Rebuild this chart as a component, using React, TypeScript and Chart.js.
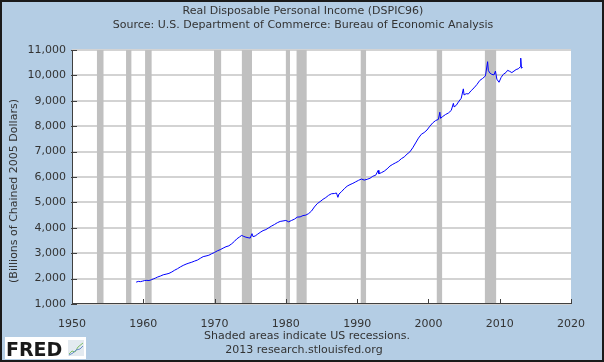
import { useEffect, useRef } from 'react';
import { Chart, registerables } from 'chart.js';

Chart.register(...registerables);

const titleLine1 = 'Real Disposable Personal Income (DSPIC96)';
const titleLine2 = 'Source: U.S. Department of Commerce: Bureau of Economic Analysis';
const yAxisTitle = '(Billions of Chained 2005 Dollars)';
const noteLine1 = 'Shaded areas indicate US recessions.';
const noteLine2 = '2013 research.stlouisfed.org';
const logoText = 'FRED';

const years = [
  1959.0, 1959.3, 1959.6, 1959.9, 1960.2, 1960.5, 1960.8, 1961.1, 1961.4, 1961.7,
  1962.0, 1962.4, 1962.8, 1963.2, 1963.6, 1964.0, 1964.4, 1964.8, 1965.2, 1965.6,
  1966.0, 1966.4, 1966.8, 1967.2, 1967.6, 1968.0, 1968.4, 1968.8, 1969.2, 1969.6,
  1970.0, 1970.4, 1970.8, 1971.2, 1971.6, 1972.0, 1972.4, 1972.8, 1973.1, 1973.5,
  1973.8, 1974.1, 1974.4, 1974.7, 1975.0, 1975.25, 1975.4, 1975.7, 1976.0, 1976.4,
  1976.8, 1977.2, 1977.6, 1978.0, 1978.4, 1978.8, 1979.2, 1979.6, 1980.0, 1980.4,
  1980.8, 1981.2, 1981.6, 1982.0, 1982.4, 1982.8, 1983.2, 1983.6, 1984.0, 1984.4,
  1984.8, 1985.2, 1985.6, 1986.0, 1986.4, 1986.8, 1987.1, 1987.3, 1987.45, 1987.8,
  1988.2, 1988.6, 1989.0, 1989.4, 1989.8, 1990.2, 1990.6, 1991.0, 1991.4, 1991.8,
  1992.2, 1992.6, 1992.95, 1993.05, 1993.4, 1993.8, 1994.2, 1994.6, 1995.0, 1995.4,
  1995.8, 1996.2, 1996.6, 1997.0, 1997.4, 1997.8, 1998.2, 1998.6, 1999.0, 1999.4,
  1999.8, 2000.2, 2000.6, 2001.0, 2001.4, 2001.6, 2001.7, 2002.0, 2002.4, 2002.8,
  2003.2, 2003.5, 2003.6, 2003.9, 2004.2, 2004.6, 2004.9, 2005.0, 2005.3, 2005.6,
  2006.0, 2006.4, 2006.8, 2007.2, 2007.6, 2008.0, 2008.3, 2008.4, 2008.6, 2008.9,
  2009.2, 2009.4, 2009.6, 2009.9, 2010.2, 2010.5, 2010.9, 2011.1, 2011.4, 2011.7,
  2012.0, 2012.3, 2012.6, 2012.9, 2012.95, 2013.05, 2013.2,
];

const income = [
  1860, 1890, 1880, 1900, 1925, 1930, 1925, 1950, 1985, 2020,
  2060, 2100, 2150, 2175, 2205, 2260, 2330, 2390, 2460, 2520,
  2570, 2610, 2645, 2690, 2730, 2800, 2865, 2890, 2920, 2980,
  3030, 3095, 3140, 3200, 3255, 3290, 3370, 3470, 3560, 3640,
  3700, 3660, 3630, 3610, 3595, 3770, 3650, 3680, 3740, 3820,
  3890, 3930, 4000, 4070, 4130, 4200, 4250, 4270, 4290, 4235,
  4290, 4340, 4420, 4430, 4480, 4500, 4560, 4660, 4820, 4950,
  5030, 5120, 5190, 5280, 5340, 5350, 5370, 5200, 5330, 5420,
  5540, 5640, 5700, 5750, 5810, 5870, 5920, 5880, 5910, 5950,
  6030, 6070, 6260, 6130, 6170, 6230, 6320, 6430, 6500, 6560,
  6620, 6720, 6790, 6900, 6990, 7150, 7340, 7530, 7680, 7750,
  7850, 8000, 8130, 8220, 8270, 8550, 8310, 8380, 8460, 8520,
  8620, 8900, 8760, 8820, 8950, 9100, 9470, 9230, 9280, 9270,
  9400, 9510, 9640, 9800, 9880, 9980, 10540, 10200, 10100, 10040,
  10020, 10170, 9850, 9730, 9920, 10040, 10120, 10200, 10160, 10110,
  10170, 10230, 10260, 10340, 10680, 10280, 10330,
];

const recessionStart = [1953.5, 1957.58, 1960.25, 1969.92, 1973.83, 1980.0, 1981.5, 1990.5, 2001.17, 2007.92];
const recessionEnd = [1954.42, 1958.33, 1961.17, 1970.92, 1975.25, 1980.58, 1982.92, 1991.25, 2001.92, 2009.5];

const FONT = '"DejaVu Sans", Verdana, sans-serif';
const BG = '#b4cde4';
const TEXT = '#333333';

const fredPlugin = {
  id: 'fredDecor',
  beforeDraw(chart: any) {
    const { ctx, chartArea: a, width, height } = chart;
    ctx.save();
    ctx.fillStyle = BG;
    ctx.fillRect(0, 0, width, height);
    ctx.fillStyle = '#ffffff';
    ctx.fillRect(a.left, a.top, a.right - a.left, a.bottom - a.top);
    ctx.restore();
  },
  beforeDatasetsDraw(chart: any) {
    const { ctx, chartArea: a } = chart;
    const x = chart.scales.x;
    ctx.save();
    ctx.fillStyle = '#c0c0c0';
    recessionStart.forEach((s, i) => {
      const x0 = x.getPixelForValue(s);
      const x1 = x.getPixelForValue(recessionEnd[i]);
      ctx.fillRect(x0, a.top, x1 - x0, a.bottom - a.top);
    });
    ctx.restore();
  },
  afterDatasetsDraw(chart: any) {
    const { ctx, chartArea: a } = chart;
    const xs = chart.scales.x;
    const ys = chart.scales.y;
    ctx.save();
    ctx.strokeStyle = '#404040';
    ctx.lineWidth = 1;
    ctx.beginPath();
    ctx.moveTo(a.left + 0.5, a.top);
    ctx.lineTo(a.left + 0.5, a.bottom - 0.5);
    ctx.lineTo(a.right, a.bottom - 0.5);
    ys.ticks.forEach((t: any) => {
      const py = Math.round(ys.getPixelForValue(t.value)) + 0.5;
      ctx.moveTo(a.left - 1, py);
      ctx.lineTo(a.left + 5, py);
    });
    xs.ticks.forEach((t: any) => {
      const px = Math.round(xs.getPixelForValue(t.value)) + 0.5;
      ctx.moveTo(px, a.bottom);
      ctx.lineTo(px, a.bottom - 5);
    });
    ctx.stroke();
    ctx.restore();
  },
  afterDraw(chart: any) {
    const { ctx, width, height } = chart;
    ctx.save();
    ctx.fillStyle = TEXT;
    ctx.font = `11px ${FONT}`;
    ctx.textAlign = 'center';
    ctx.textBaseline = 'middle';
    ctx.fillText(titleLine1, 303, 11);
    ctx.fillText(titleLine2, 303, 25);
    ctx.fillText(noteLine1, 307, 336);
    ctx.fillText(noteLine2, 304, 350);

    ctx.save();
    ctx.translate(14, 191);
    ctx.rotate(-Math.PI / 2);
    ctx.fillText(yAxisTitle, 0, 0);
    ctx.restore();

    // FRED logo
    ctx.fillStyle = '#ffffff';
    ctx.fillRect(5, 337, 81, 22);
    ctx.fillStyle = '#1a1a1a';
    ctx.font = `bold 19px ${FONT}`;
    ctx.textAlign = 'left';
    ctx.textBaseline = 'alphabetic';
    ctx.fillText(logoText, 6, 356);
    ctx.fillStyle = '#e3eaf0';
    ctx.fillRect(68, 340, 16, 16);
    ctx.lineWidth = 1;
    ctx.strokeStyle = '#7fbf6a';
    ctx.beginPath();
    ctx.moveTo(69, 354); ctx.lineTo(72, 351); ctx.lineTo(75, 352); ctx.lineTo(78, 347); ctx.lineTo(83, 343);
    ctx.stroke();
    ctx.strokeStyle = '#6a8fc8';
    ctx.beginPath();
    ctx.moveTo(69, 355); ctx.lineTo(73, 353); ctx.lineTo(76, 350); ctx.lineTo(80, 349); ctx.lineTo(83, 346);
    ctx.stroke();

    // outer border
    ctx.strokeStyle = '#1a1a1a';
    ctx.lineWidth = 2;
    ctx.strokeRect(1, 1, width - 2, height - 2);
    ctx.restore();
  },
};

export default function App() {
  const canvasRef = useRef<HTMLCanvasElement | null>(null);

  useEffect(() => {
    document.body.style.margin = '0';
    const canvas = canvasRef.current;
    if (!canvas) return;
    const chart = new Chart(canvas, {
      type: 'line',
      data: {
        datasets: [
          {
            label: 'DSPIC96',
            data: years.map((yr, i) => ({ x: yr, y: income[i] })),
            borderColor: '#0000ff',
            borderWidth: 1,
            pointRadius: 0,
            tension: 0,
            fill: false,
          },
        ],
      },
      options: {
        animation: false,
        responsive: false,
        devicePixelRatio: 1,
        events: [],
        layout: { padding: { left: 0, right: 33, top: 50, bottom: 0 } },
        plugins: {
          legend: { display: false },
          title: { display: false },
          tooltip: { enabled: false },
        },
        scales: {
          x: {
            type: 'linear',
            min: 1950,
            max: 2020,
            grid: { display: false },
            border: { display: false },
            ticks: {
              stepSize: 10,
              autoSkip: false,
              maxRotation: 0,
              padding: 6,
              color: TEXT,
              font: { family: FONT, size: 11 },
              callback: (v: any) => String(v),
            },
            afterFit: (s: any) => {
              s.height = 58;
            },
          },
          y: {
            type: 'linear',
            min: 1000,
            max: 11000,
            grid: { color: '#d3d3d3', lineWidth: 2, drawTicks: false },
            border: { display: false },
            ticks: {
              stepSize: 1000,
              padding: 6,
              color: TEXT,
              font: { family: FONT, size: 11 },
              callback: (v: any) => Number(v).toLocaleString('en-US'),
            },
            afterFit: (s: any) => {
              s.width = 72;
            },
          },
        },
      },
      plugins: [fredPlugin],
    });
    return () => chart.destroy();
  }, []);

  return (
    <div style={{ position: 'absolute', left: 0, top: 0, width: 604, height: 362 }}>
      <canvas ref={canvasRef} width={604} height={362} style={{ display: 'block' }} />
    </div>
  );
}
